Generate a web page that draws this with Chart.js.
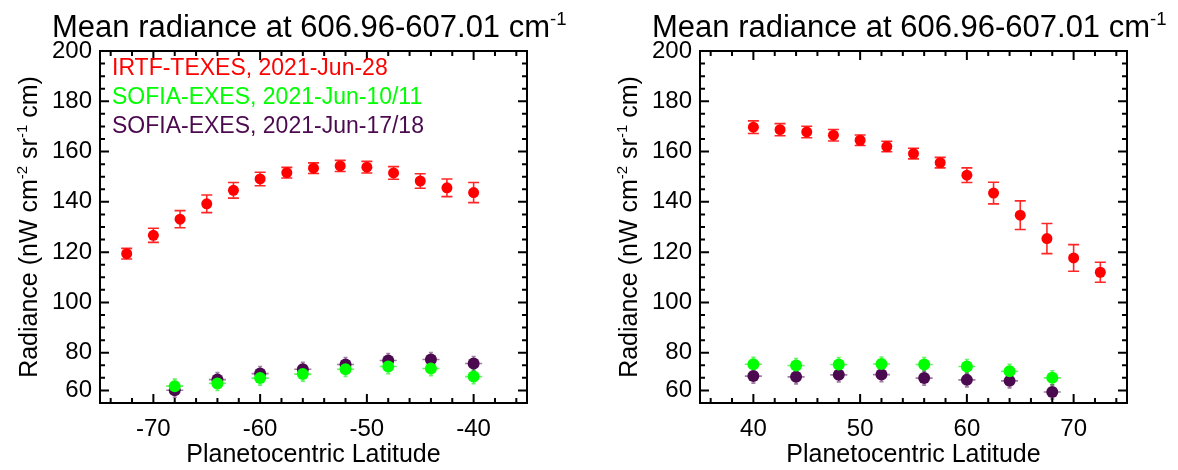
<!DOCTYPE html>
<html lang="en">
<head>
<meta charset="UTF-8">
<title>Mean radiance at 606.96-607.01 cm-1</title>
<script src="https://cdn.jsdelivr.net/npm/chart.js"></script>
<style>
  body{ margin:0; background:#fff; }
  .panel{ position:absolute; top:0; height:470px; }
  #left{ left:0; width:600px; }
  #right{ left:600px; width:578px; }
</style>
</head>
<body>
<div class="panel" id="left"><canvas id="chartS" width="600" height="470"></canvas></div>
<div class="panel" id="right"><canvas id="chartN" width="578" height="470"></canvas></div>

<script>
// ---- data ----
// southern panel
const latS_texes = [-72.5, -70, -67.5, -65, -62.5, -60, -57.5, -55, -52.5, -50, -47.5, -45, -42.5, -40]
const radS_texes = [119.4, 126.7, 133.1, 139.2, 144.6, 149.1, 151.6, 153.4, 154.3, 153.8, 151.5, 148.3, 145.6, 143.7]
const errS_texes = [2.1, 2.8, 3.4, 3.5, 3.1, 2.7, 2.1, 2.1, 2.2, 2.3, 2.5, 2.9, 3.5, 4.0]
const latS_exes = [-68, -64, -60, -56, -52, -48, -44, -40]
const radS_exes1 = [66.7, 67.8, 69.9, 71.5, 73.4, 74.5, 73.7, 70.5]
const radS_exes2 = [65.1, 69.3, 71.7, 73.4, 75.3, 76.9, 77.3, 75.7]
const errS_exes1 = [2.8, 2.8, 2.8, 2.8, 2.8, 2.8, 2.8, 2.8]
const errS_exes2 = [2.8, 2.8, 2.8, 2.8, 2.8, 2.8, 2.8, 2.8]

// northern panel
const latN_texes = [40, 42.5, 45, 47.5, 50, 52.5, 55, 57.5, 60, 62.5, 65, 67.5, 70, 72.5]
const radN_texes = [169.7, 168.7, 167.8, 166.5, 164.5, 162.0, 159.2, 155.6, 150.6, 143.5, 134.7, 125.4, 117.7, 112.0]
const errN_texes = [2.5, 2.4, 2.3, 2.3, 2.1, 2.1, 2.1, 2.1, 2.9, 4.3, 5.7, 6.0, 5.3, 4.0]
const latN_exes = [40, 44, 48, 52, 56, 60, 64, 68]
const radN_exes1 = [75.4, 74.9, 75.3, 75.5, 75.3, 74.5, 72.6, 70.0]
const radN_exes2 = [70.7, 70.4, 71.2, 71.3, 69.9, 69.2, 68.8, 64.4]
const errN_exes1 = [2.8, 2.8, 2.8, 2.8, 2.8, 2.8, 2.8, 2.8]
const errN_exes2 = [2.8, 2.8, 2.8, 2.8, 2.8, 2.8, 2.8, 2.8]

// axes
const xTicksS = [-70, -60, -50, -40]
const xTicksN = [40, 50, 60, 70]
const yTickValues = [65, 80, 100, 120, 140, 160, 180, 200]
const yTickLabels = ['60', '80', '100', '120', '140', '160', '180', '200']

const labels = ['IRTF-TEXES, 2021-Jun-28', 'SOFIA-EXES, 2021-Jun-10/11', 'SOFIA-EXES, 2021-Jun-17/18']
const FAMILY = "'Liberation Sans', Arial, Helvetica, sans-serif"

const pts = (xs, ys) => xs.map((x, i) => ({ x: x, y: ys[i] }))

// draws a line of text with superscript pieces, returns its width
function richText(ctx, parts, x, y, size, measureOnly) {
    let cx = x
    parts.forEach(p => {
        const s = p.sup ? size * 0.6 : size
        ctx.font = s + 'px ' + FAMILY
        if (!measureOnly) ctx.fillText(p.t, cx, p.sup ? y - size * 0.4 : y)
        cx += ctx.measureText(p.t).width
    })
    return cx - x
}

const titleParts = [{ t: 'Mean radiance at 606.96-607.01 cm' }, { t: '-1', sup: true }]
const yTitleParts = [{ t: 'Radiance (nW cm' }, { t: '-2', sup: true }, { t: ' sr' }, { t: '-1', sup: true }, { t: ' cm)' }]

// title, y title, box, inward ticks, error bars, text legend
const decor = {
    id: 'decor',
    beforeDatasetsDraw(chart) {
        const ctx = chart.ctx
        const xs = chart.scales.x, ys = chart.scales.y
        ctx.save()
        chart.data.datasets.forEach(ds => {
            ctx.strokeStyle = ds.errColor
            ctx.lineWidth = 1.6
            ds.data.forEach((p, i) => {
                const px = xs.getPixelForValue(p.x)
                const y1 = ys.getPixelForValue(p.y - ds.err[i])
                const y2 = ys.getPixelForValue(p.y + ds.err[i])
                const c = ds.cap
                ctx.beginPath()
                ctx.moveTo(px, y1); ctx.lineTo(px, y2)
                ctx.moveTo(px - c, y1); ctx.lineTo(px + c, y1)
                ctx.moveTo(px - c, y2); ctx.lineTo(px + c, y2)
                if (ds.xerr) {
                    const x1 = xs.getPixelForValue(p.x - ds.xerr)
                    const x2 = xs.getPixelForValue(p.x + ds.xerr)
                    const py = ys.getPixelForValue(p.y)
                    ctx.moveTo(x1, py); ctx.lineTo(x2, py)
                }
                ctx.stroke()
            })
        })
        ctx.restore()
    },
    afterDraw(chart, args, opts) {
        const ctx = chart.ctx
        const a = chart.chartArea
        const xs = chart.scales.x, ys = chart.scales.y
        ctx.save()
        ctx.fillStyle = '#000'
        ctx.textBaseline = 'alphabetic'
        ctx.textAlign = 'left'
        richText(ctx, titleParts, a.left - 48, 37, 31)

        // rotated y title
        const w = richText(ctx, yTitleParts, 0, 0, 25, true)
        ctx.save()
        ctx.translate(a.left - 63, (a.top + a.bottom) / 2)
        ctx.rotate(-Math.PI / 2)
        richText(ctx, yTitleParts, -w / 2, 0, 25)
        ctx.restore()

        // frame and ticks on all four sides
        ctx.strokeStyle = '#000'
        ctx.lineWidth = 2
        ctx.strokeRect(a.left, a.top, a.right - a.left, a.bottom - a.top)
        ctx.beginPath()
        for (let v = Math.ceil(xs.min); v <= xs.max; v++) {
            if (v % 2 !== 0) continue
            const len = v % 10 === 0 ? 9 : 5
            const px = xs.getPixelForValue(v)
            ctx.moveTo(px, a.bottom); ctx.lineTo(px, a.bottom - len)
            ctx.moveTo(px, a.top); ctx.lineTo(px, a.top + len)
        }
        for (let v = ys.min + 5; v < ys.max; v += 5) {
            const len = yTickValues.includes(v) ? 9 : 5
            const py = ys.getPixelForValue(v)
            ctx.moveTo(a.left, py); ctx.lineTo(a.left + len, py)
            ctx.moveTo(a.right, py); ctx.lineTo(a.right - len, py)
        }
        ctx.stroke()

        if (opts.legend) {
            ctx.font = '23px ' + FAMILY
            chart.data.datasets.forEach((ds, i) => {
                ctx.fillStyle = ds.backgroundColor
                ctx.fillText(ds.label, a.left + 12, a.top + 24 + i * 29)
            })
        }
        ctx.restore()
    }
}

function makeChart(id, xMin, xMax, xTicks, sets, legend, padRight) {
    const datasets = [
        { label: labels[0], data: pts(sets[0], sets[1]), err: sets[2], cap: 5.5,
          backgroundColor: '#ff0000', errColor: 'rgba(255,0,0,0.85)', pointRadius: 5.5 },
        { label: labels[1], data: pts(sets[3], sets[4]), err: sets[5], xerr: 0.8, cap: 2,
          backgroundColor: '#00ff00', errColor: 'rgba(0,235,0,0.6)', pointRadius: 6 },
        { label: labels[2], data: pts(sets[3], sets[6]), err: sets[7], xerr: 0.8, cap: 2,
          backgroundColor: '#4b0a4f', errColor: 'rgba(95,40,100,0.6)', pointRadius: 6 }
    ]
    datasets.forEach(d => { d.borderWidth = 0; d.pointBorderWidth = 0; d.showLine = false })

    return new Chart(document.getElementById(id), {
        type: 'scatter',
        data: { datasets: datasets },
        plugins: [decor],
        options: {
            responsive: false,
            devicePixelRatio: 1,
            animation: false,
            events: [],
            layout: { padding: { left: 0, top: 51, right: padRight, bottom: 0 } },
            plugins: {
                legend: { display: false },
                tooltip: { enabled: false },
                decor: { legend: legend }
            },
            scales: {
                x: {
                    type: 'linear', min: xMin, max: xMax,
                    afterBuildTicks: s => { s.ticks = xTicks.map(v => ({ value: v })) },
                    afterFit: s => { s.height = 67 },
                    grid: { display: false, drawTicks: false },
                    border: { display: false },
                    ticks: { color: '#000', font: { family: FAMILY, size: 24 }, padding: 12, autoSkip: false, maxRotation: 0 },
                    title: { display: true, text: 'Planetocentric Latitude', color: '#000',
                             font: { family: FAMILY, size: 25 }, padding: { top: 0, bottom: 0 } }
                },
                y: {
                    type: 'linear', min: 60, max: 200,
                    afterBuildTicks: s => { s.ticks = yTickValues.map(v => ({ value: v })) },
                    afterFit: s => { s.width = 100 },
                    grid: { display: false, drawTicks: false },
                    border: { display: false },
                    ticks: { color: '#000', font: { family: FAMILY, size: 24 }, padding: 8, autoSkip: false,
                             callback: (v, i) => yTickLabels[i] }
                }
            }
        }
    })
}

makeChart('chartS', -75, -35, xTicksS,
    [latS_texes, radS_texes, errS_texes, latS_exes, radS_exes1, errS_exes1, radS_exes2, errS_exes2], true, 73)
makeChart('chartN', 35, 75, xTicksN,
    [latN_texes, radN_texes, errN_texes, latN_exes, radN_exes1, errN_exes1, radN_exes2, errN_exes2], false, 51)
</script>
</body>
</html>
